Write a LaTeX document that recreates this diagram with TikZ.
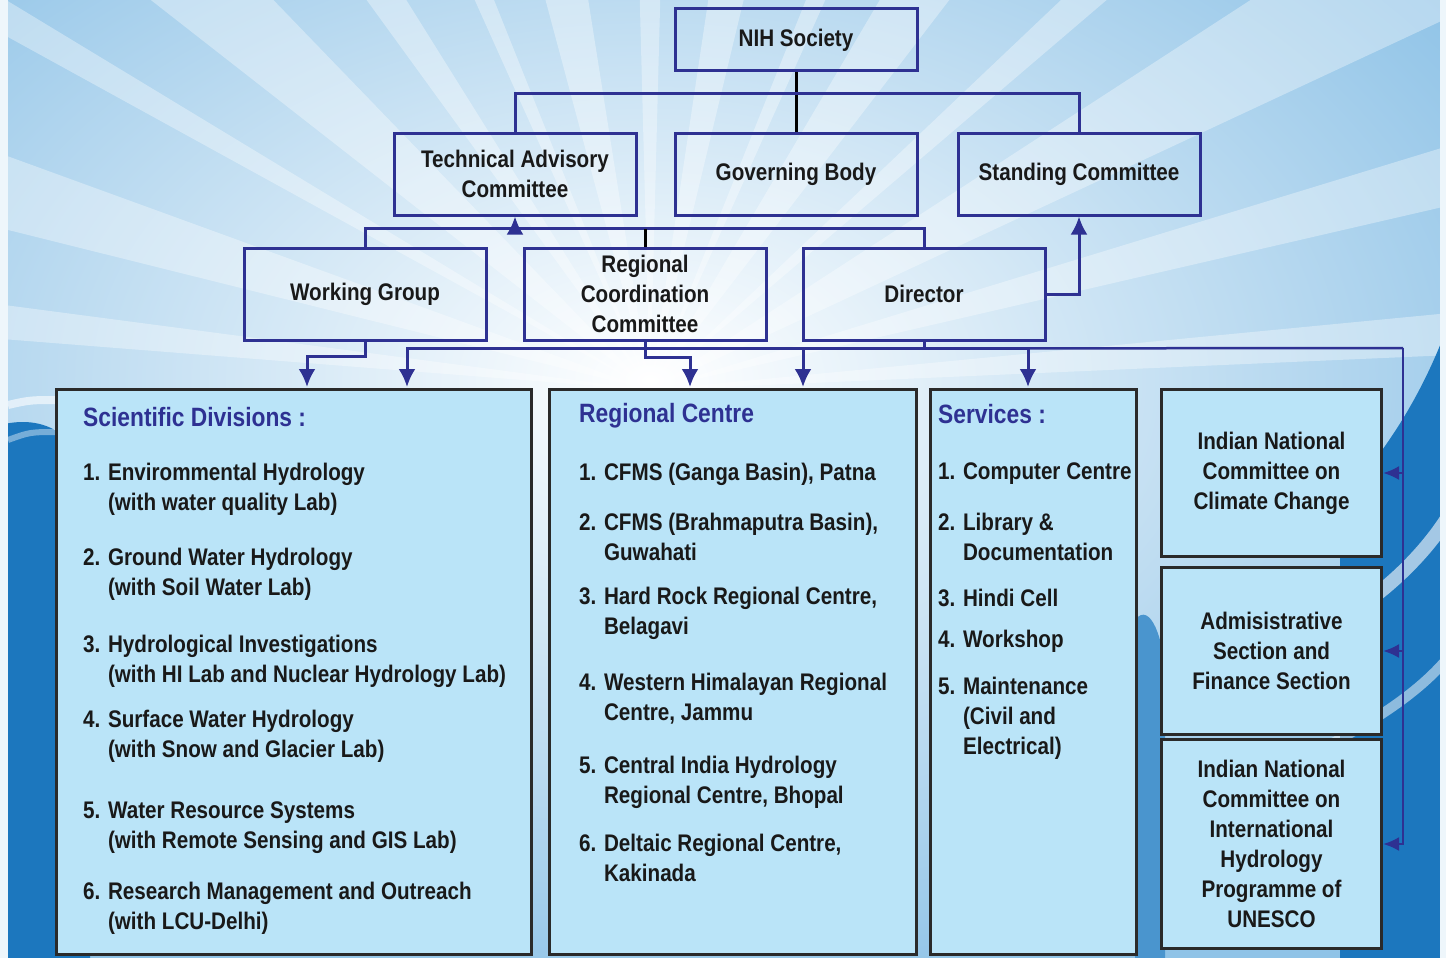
\documentclass[tikz,border=0pt]{standalone}
\usepackage{fontspec}
\setmainfont{Liberation Sans}[FakeStretch=0.86]
\usetikzlibrary{arrows.meta}

\definecolor{navy}{HTML}{2E3192}
\definecolor{boxedge}{HTML}{2A2A2A}
\definecolor{boxfill}{HTML}{BAE4F8}
\definecolor{sky}{HTML}{8FC3E7}
\definecolor{deep}{HTML}{1C77BE}

\newcommand\itemgap{\phantom{1. }}

\tikzset{
  topbox/.style={draw=navy, line width=3pt, minimum width=242pt, inner sep=0pt, align=center, text=black!90, font=\bfseries\fontsize{24}{30}\selectfont},
  listbox/.style={draw=boxedge, fill=boxfill, line width=3pt, anchor=north west, inner sep=0pt, align=center, text=black!90, font=\bfseries\fontsize{24}{30}\selectfont},
  head/.style={anchor=west, inner sep=0pt, text=navy, font=\bfseries\fontsize{26.5}{30}\selectfont},
  entry/.style={anchor=west, inner sep=0pt, align=left, text=black!90, font=\bfseries\fontsize{24}{30}\selectfont},
  link/.style={draw=navy, line width=3pt},
  arrow/.style={link, -{Latex[length=18pt, width=17pt]}},
  sidearrow/.style={draw=navy, line width=2.5pt, -{Latex[length=16pt, width=14pt]}},
}

\begin{document}
\begin{tikzpicture}[x=1pt, y=-1pt]
\useasboundingbox (0,0) rectangle (1446,958);

% background: sky, rays and waves
\begin{scope}
\clip (0,0) rectangle (1446,958);
\fill[sky] (0,0) rectangle (1446,958);
\shade[inner color=white, outer color=sky] (650,380) ellipse (1000pt and 640pt);
\foreach \a/\w in {186/1.5, 197/3, 210/1.2, 222/4, 236/2, 247/1.2, 258/3, 270/1.5, 281/2.5, 293/1.2, 304/3.5, 318/1.5, 331/4, 345/2, 356/1.5}
  \fill[white, opacity=0.35] (650,390) -- +(\a-\w:1800) -- +(\a+\w:1800) -- cycle;
\fill[deep] (0,425) .. controls (40,415) and (70,430) .. (90,470) -- (90,958) -- (0,958) -- cycle;
\fill[deep] (1446,330) .. controls (1420,400) and (1380,460) .. (1340,500) -- (1340,958) -- (1446,958) -- cycle;
\fill[deep!60!sky] (1135,620) .. controls (1150,600) and (1165,640) .. (1165,680) -- (1165,958) -- (1135,958) -- cycle;
\draw[white, opacity=0.6, line width=14pt] (1300,640) .. controls (1370,610) and (1420,560) .. (1446,520);
\draw[white, opacity=0.5, line width=10pt] (1300,760) .. controls (1380,720) and (1420,690) .. (1446,660);
\draw[white, opacity=0.6, line width=8pt] (8,405) .. controls (30,400) .. (60,400);
\draw[white, opacity=0.4, line width=6pt] (8,440) .. controls (30,432) .. (60,432);
\fill[white!85!sky] (0,0) rectangle (8,958);
\fill[white!85!sky] (1440,0) rectangle (1446,958);
\end{scope}

% governing levels
\node[topbox, minimum height=62pt] (nih) at (796,40) {NIH Society};
\node[topbox, minimum height=82pt] (tac) at (515,174) {Technical Advisory\\Committee};
\node[topbox, minimum height=82pt] (gov) at (796,174) {Governing Body};
\node[topbox, minimum height=82pt] (stc) at (1079,174) {Standing Committee};
\node[topbox, minimum height=92pt] (wg) at (365,294) {Working Group};
\node[topbox, minimum height=92pt] (rcc) at (645,294) {Regional\\Coordination\\Committee};
\node[topbox, minimum height=92pt] (dir) at (924,294) {Director};

% units
\node[listbox, minimum width=475pt, minimum height=565pt] (sci) at (55,388) {};
\node[listbox, minimum width=367pt, minimum height=565pt] (reg) at (548,388) {};
\node[listbox, minimum width=206pt, minimum height=565pt] (srv) at (929,388) {};
\node[listbox, minimum width=220pt, minimum height=167pt] (ccc) at (1160,388) {Indian National\\Committee on\\Climate Change};
\node[listbox, minimum width=220pt, minimum height=167pt] (adm) at (1160,566) {Admisistrative\\Section and\\Finance Section};
\node[listbox, minimum width=220pt, minimum height=209pt] (ihp) at (1160,738) {Indian National\\Committee on\\International\\Hydrology\\Programme of\\UNESCO};

\node[head] (scihead) at (83,417) {Scientific Divisions :};
\node[entry] (sci1) at (83,489) {1. Envirommental Hydrology\\\itemgap(with water quality Lab)};
\node[entry] (sci2) at (83,574) {2. Ground Water Hydrology\\\itemgap(with Soil Water Lab)};
\node[entry] (sci3) at (83,661) {3. Hydrological Investigations\\\itemgap(with HI Lab and Nuclear Hydrology Lab)};
\node[entry] (sci4) at (83,736.5) {4. Surface Water Hydrology\\\itemgap(with Snow and Glacier Lab)};
\node[entry] (sci5) at (83,828) {5. Water Resource Systems\\\itemgap(with Remote Sensing and GIS Lab)};
\node[entry] (sci6) at (83,908.5) {6. Research Management and Outreach\\\itemgap(with LCU-Delhi)};

\node[head] (reghead) at (579,416) {Regional Centre};
\node[entry] (reg1) at (579,474) {1. CFMS (Ganga Basin), Patna};
\node[entry] (reg2) at (579,536.5) {2. CFMS (Brahmaputra Basin),\\\itemgap Guwahati};
\node[entry] (reg3) at (579,613) {3. Hard Rock Regional Centre,\\\itemgap Belagavi};
\node[entry] (reg4) at (579,698.5) {4. Western Himalayan Regional\\\itemgap Centre, Jammu};
\node[entry] (reg5) at (579,782) {5. Central India Hydrology\\\itemgap Regional Centre, Bhopal};
\node[entry] (reg6) at (579,857.5) {6. Deltaic Regional Centre,\\\itemgap Kakinada};

\node[head] (srvhead) at (938,414) {Services :};
\node[entry] (srv1) at (938,474) {1. Computer Centre};
\node[entry] (srv2) at (938,536.5) {2. Library \&\\\itemgap Documentation};
\node[entry] (srv3) at (938,598) {3. Hindi Cell};
\node[entry] (srv4) at (938,641) {4. Workshop};
\node[entry] (srv5) at (938,718.5) {5. Maintenance\\\itemgap(Civil and\\\itemgap Electrical)};

% connectors
\coordinate (sciA) at (307,387);
\coordinate (sciB) at (407,387);
\coordinate (regA) at (690,387);
\coordinate (regB) at (803,387);
\coordinate (srvA) at (1028,387);
\coordinate (turn) at (1403,348);

\draw[link, draw=black] (nih.south) -- (gov.north);
\draw[link] (tac.north) -- ++(0,-38) -| (stc.north);
\draw[link] (wg.north) -- ++(0,-18) -| (dir.north);
\draw[link, draw=black] (rcc.north) -- ++(0,-18);
\draw[arrow] (tac.south) ++(0,15) -- (tac.south);
\draw[arrow] (dir.east) -| (stc.south);

\draw[arrow] (wg.south) -- ++(0,15) -| (sciA);
\draw[arrow] (rcc.south) -- ++(0,16) -| (regA);
\draw[link] (dir.south) -- ++(0,7) coordinate (bus);
\draw[arrow] (bus) -| (sciB);
\draw[arrow] (bus) -| (regB);
\draw[arrow] (bus) -| (srvA);
\draw[link, line width=2.5pt] (bus) -- (turn);
\draw[sidearrow] (turn) |- (ccc.east);
\draw[sidearrow] (turn) |- (adm.east);
\draw[sidearrow] (turn) |- (ihp.east);

\end{tikzpicture}
\end{document}
